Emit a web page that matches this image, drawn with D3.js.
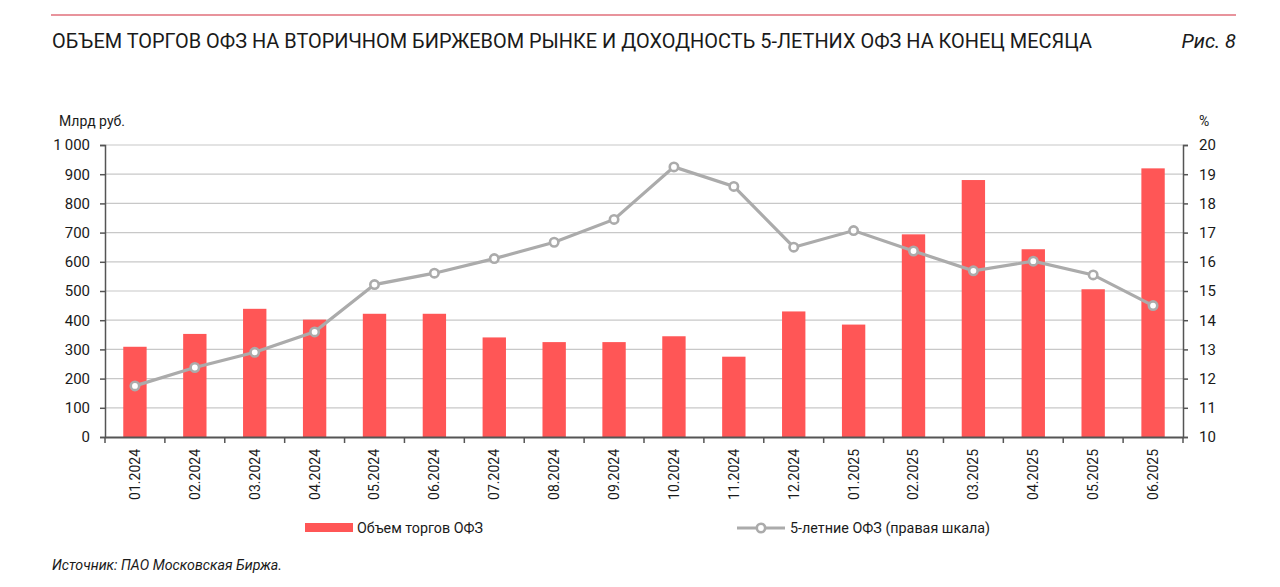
<!DOCTYPE html>
<html>
<head>
<meta charset="utf-8">
<script src="https://cdn.jsdelivr.net/npm/d3@7"></script>
<style>
  html, body { margin: 0; padding: 0; background: #fff; }
  svg { display: block; font-family: Roboto, "Noto Sans", sans-serif; }
</style>
</head>
<body>
<svg id="chart" width="1280" height="587"></svg>
<script>
const categories = ["01.2024","02.2024","03.2024","04.2024","05.2024","06.2024","07.2024","08.2024","09.2024","10.2024","11.2024","12.2024","01.2025","02.2025","03.2025","04.2025","05.2025","06.2025"];
const volume = [309, 353, 439, 402, 422, 422, 341, 325, 325, 345, 275, 430, 385, 694, 880, 643, 506, 920];
const yield5 = [11.75, 12.38, 12.9, 13.6, 15.22, 15.61, 16.11, 16.67, 17.45, 19.25, 18.58, 16.5, 17.07, 16.37, 15.69, 16.02, 15.55, 14.5];
const leftTicks = [0, 100, 200, 300, 400, 500, 600, 700, 800, 900, 1000];
const rightTicks = [10, 11, 12, 13, 14, 15, 16, 17, 18, 19, 20];
const titleText = "ОБЪЕМ ТОРГОВ ОФЗ НА ВТОРИЧНОМ БИРЖЕВОМ РЫНКЕ И ДОХОДНОСТЬ 5-ЛЕТНИХ ОФЗ НА КОНЕЦ МЕСЯЦА";
const figText = "Рис. 8";
const leftUnit = "Млрд руб.";
const rightUnit = "%";
const barLegend = "Объем торгов ОФЗ";
const lineLegend = "5-летние ОФЗ (правая шкала)";
const sourceText = "Источник: ПАО Московская Биржа.";

const svg = d3.select("#chart");
const L = 105, R = 1183, T = 145, B = 437;
const barColor = "#FF5656", lineColor = "#ABABAB", axisColor = "#555", gridColor = "#C8C8C8";

// header
svg.append("line").attr("x1", 51).attr("x2", 1236).attr("y1", 15).attr("y2", 15)
  .attr("stroke", "#E8939C").attr("stroke-width", 2);
svg.append("text").attr("x", 52).attr("y", 48).attr("font-size", 20).attr("fill", "#1a1a1a")
  .attr("textLength", 1040).attr("lengthAdjust", "spacingAndGlyphs").text(titleText);
svg.append("text").attr("x", 1236).attr("y", 48).attr("font-size", 20).attr("font-style", "italic")
  .attr("fill", "#1a1a1a").attr("text-anchor", "end").text(figText);

const x = d3.scaleBand().domain(categories).range([L, R]).paddingInner(0.61).paddingOuter(0.305);
const xb = d3.scaleBand().domain(categories).range([L, R]);
const yL = d3.scaleLinear().domain([0, 1000]).range([B, T]);
const yR = d3.scaleLinear().domain([10, 20]).range([B, T]);

// grid
svg.append("g").selectAll("line").data(leftTicks.slice(1)).join("line")
  .attr("x1", L).attr("x2", R).attr("y1", d => yL(d)).attr("y2", d => yL(d))
  .attr("stroke", gridColor).attr("stroke-width", 1.2);

// bars
svg.append("g").selectAll("rect").data(volume).join("rect")
  .attr("x", (d, i) => x(categories[i])).attr("width", x.bandwidth())
  .attr("y", d => yL(d)).attr("height", d => B - yL(d)).attr("fill", barColor);

// axes
const fmt = d => d >= 1000 ? d3.format(",")(d).replace(",", "\u2009") : String(d);
const axL = svg.append("g").attr("transform", `translate(${L},0)`)
  .call(d3.axisLeft(yL).tickValues(leftTicks).tickSize(5).tickPadding(10).tickFormat(fmt));
const axR = svg.append("g").attr("transform", `translate(${R},0)`)
  .call(d3.axisRight(yR).tickValues(rightTicks).tickSize(5).tickPadding(11));
const axB = svg.append("g").attr("transform", `translate(0,${B})`)
  .call(d3.axisBottom(xb).tickSize(0).tickPadding(0));
[axL, axR].forEach(a => {
  a.select(".domain").attr("stroke", axisColor).attr("stroke-width", 1.5);
  a.selectAll(".tick line").attr("stroke", axisColor).attr("stroke-width", 1.5);
  a.selectAll("text").attr("font-size", 15).attr("fill", "#1a1a1a").attr("font-family", "Roboto, sans-serif");
});
axB.select(".domain").attr("stroke", axisColor).attr("stroke-width", 2);
axB.selectAll(".tick text").attr("font-size", 14).attr("fill", "#1a1a1a").attr("font-family", "Roboto, sans-serif")
  .attr("text-anchor", "end").attr("dy", "0.35em")
  .attr("transform", "translate(0,12) rotate(-90)").attr("x", 0).attr("y", 0);
// boundary tick marks
svg.append("g").selectAll("line").data(d3.range(categories.length + 1)).join("line")
  .attr("x1", i => L + i * xb.step()).attr("x2", i => L + i * xb.step())
  .attr("y1", B).attr("y2", B + 6).attr("stroke", axisColor).attr("stroke-width", 1.5);

// line series
const line = d3.line().x((d, i) => xb(categories[i]) + xb.bandwidth() / 2).y(d => yR(d));
svg.append("path").datum(yield5).attr("d", line).attr("fill", "none")
  .attr("stroke", lineColor).attr("stroke-width", 3.2);
svg.append("g").selectAll("circle").data(yield5).join("circle")
  .attr("cx", (d, i) => xb(categories[i]) + xb.bandwidth() / 2).attr("cy", d => yR(d))
  .attr("r", 4.2).attr("fill", "#fff").attr("stroke", lineColor).attr("stroke-width", 2.6);

// unit labels
svg.append("text").attr("x", 59).attr("y", 126).attr("font-size", 14).attr("fill", "#1a1a1a").text(leftUnit);
svg.append("text").attr("x", 1199).attr("y", 126).attr("font-size", 14).attr("fill", "#1a1a1a").text(rightUnit);

// legend
svg.append("rect").attr("x", 305).attr("y", 523).attr("width", 48).attr("height", 9).attr("fill", barColor);
svg.append("text").attr("x", 357).attr("y", 533).attr("font-size", 14).attr("fill", "#1a1a1a")
  .attr("textLength", 126).attr("lengthAdjust", "spacingAndGlyphs").text(barLegend);
svg.append("line").attr("x1", 737).attr("x2", 785).attr("y1", 528).attr("y2", 528)
  .attr("stroke", lineColor).attr("stroke-width", 3.2);
svg.append("circle").attr("cx", 761).attr("cy", 528).attr("r", 4.2).attr("fill", "#fff")
  .attr("stroke", lineColor).attr("stroke-width", 2.6);
svg.append("text").attr("x", 790).attr("y", 533).attr("font-size", 14).attr("fill", "#1a1a1a")
  .attr("textLength", 200).attr("lengthAdjust", "spacingAndGlyphs").text(lineLegend);

// source
svg.append("text").attr("x", 52).attr("y", 570).attr("font-size", 14).attr("font-style", "italic")
  .attr("fill", "#1a1a1a").attr("textLength", 230).attr("lengthAdjust", "spacingAndGlyphs").text(sourceText);
</script>
</body>
</html>
